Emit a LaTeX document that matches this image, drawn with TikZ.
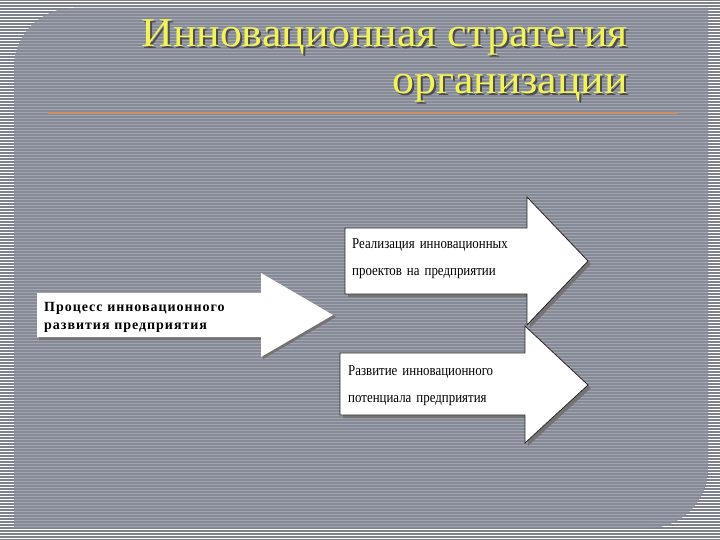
\documentclass[tikz,border=0pt]{standalone}
\usepackage{fontspec}
\setmainfont{Liberation Serif}
\newfontfamily\narrowfont[FakeStretch=0.86]{Liberation Serif}
\newfontfamily\spacedfont[LetterSpace=7]{Liberation Serif}
\newfontfamily\titlefont[FakeStretch=1.07]{Liberation Serif}
\usepackage{xcolor}
\usepackage{tikz}
\definecolor{panelGray}{HTML}{868A96}
\definecolor{stripeGray}{HTML}{A1A5AF}
\definecolor{outerGray}{HTML}{7E828E}
\definecolor{titleYellow}{HTML}{F2F25A}
\definecolor{ruleOrange}{HTML}{C9906C}
\tikzstyle{arrowShape} = [fill=white, draw=black!85, line width=0.8pt, line join=miter]
\tikzstyle{arrowShadow} = [fill=black!55]
\tikzstyle{titleText} = [font=\titlefont\fontsize{41}{45}\selectfont, text=titleYellow, anchor=base east, inner sep=0pt]
\tikzstyle{titleShadow} = [font=\titlefont\fontsize{41}{45}\selectfont, text=black!70, anchor=base east, inner sep=0pt]
\tikzstyle{boxText} = [font=\narrowfont\fontsize{15}{27}\selectfont, align=left, anchor=north west, inner sep=0pt]

\begin{document}
\begin{tikzpicture}[x=1pt, y=-1pt]
        \useasboundingbox (0,0) rectangle (720,540);
        % outer striped frame
        \fill[white] (0,0) rectangle (720,540);
        \foreach \y in {0,3,...,540}
            \draw[outerGray, line width=1.5pt] (0,\y) -- (720,\y);
        % panel
        \fill[panelGray] (14,528) [rounded corners=60pt] -- (14,8) [sharp corners] -- (708,8) [rounded corners=60pt] -- (708,528) [sharp corners] -- cycle;
        \begin{scope}
            \clip (14,528) [rounded corners=60pt] -- (14,8) [sharp corners] -- (708,8) [rounded corners=60pt] -- (708,528) [sharp corners] -- cycle;
            \foreach \y in {1.5,4.5,...,540}
                \draw[stripeGray, line width=0.9pt] (0,\y) -- (720,\y);
        \end{scope}
        % title
        \node(titleAshadow)[titleShadow] at (630,49) {Инновационная стратегия};
        \node(titleA)[titleText] at (628,47) {Инновационная стратегия};
        \node(titleBshadow)[titleShadow] at (630,96) {организации};
        \node(titleB)[titleText] at (628,94) {организации};
        \draw[ruleOrange, line width=2pt] (48,113) -- (678,113);
        % left arrow
        \fill[arrowShadow] (39,296) -- (263,296) -- (263,276) -- (336,317) -- (263,359) -- (263,340) -- (39,340) -- cycle;
        \fill[white] (37,293) -- (261,293) -- (261,273) -- (333,315) -- (261,357) -- (261,337) -- (37,337) -- cycle;
        \node(proc)[boxText, font=\spacedfont\bfseries\fontsize{14}{18}\selectfont, text width=215pt] at (44,302) {Процесс инновационного\\развития предприятия};
        % upper right arrow
        \fill[arrowShadow] (348,231) -- (530,231) -- (530,200) -- (591,264) -- (530,328) -- (530,297) -- (348,297) -- cycle;
        \draw[arrowShape] (345,228) -- (527,228) -- (527,197) -- (588,261) -- (527,325) -- (527,294) -- (345,294) -- cycle;
        \node(real)[boxText, text width=170pt] at (352,238) {Реализация инновационных\\проектов на предприятии};
        % lower right arrow
        \fill[arrowShadow] (343,356) -- (528,356) -- (528,329) -- (591,388) -- (528,446) -- (528,418) -- (343,418) -- cycle;
        \draw[arrowShape] (340,353) -- (525,353) -- (525,326) -- (588,385) -- (525,443) -- (525,415) -- (340,415) -- cycle;
        \node(dev)[boxText, text width=170pt] at (348,365) {Развитие инновационного\\потенциала предприятия};
    \end{tikzpicture}
\end{document}
